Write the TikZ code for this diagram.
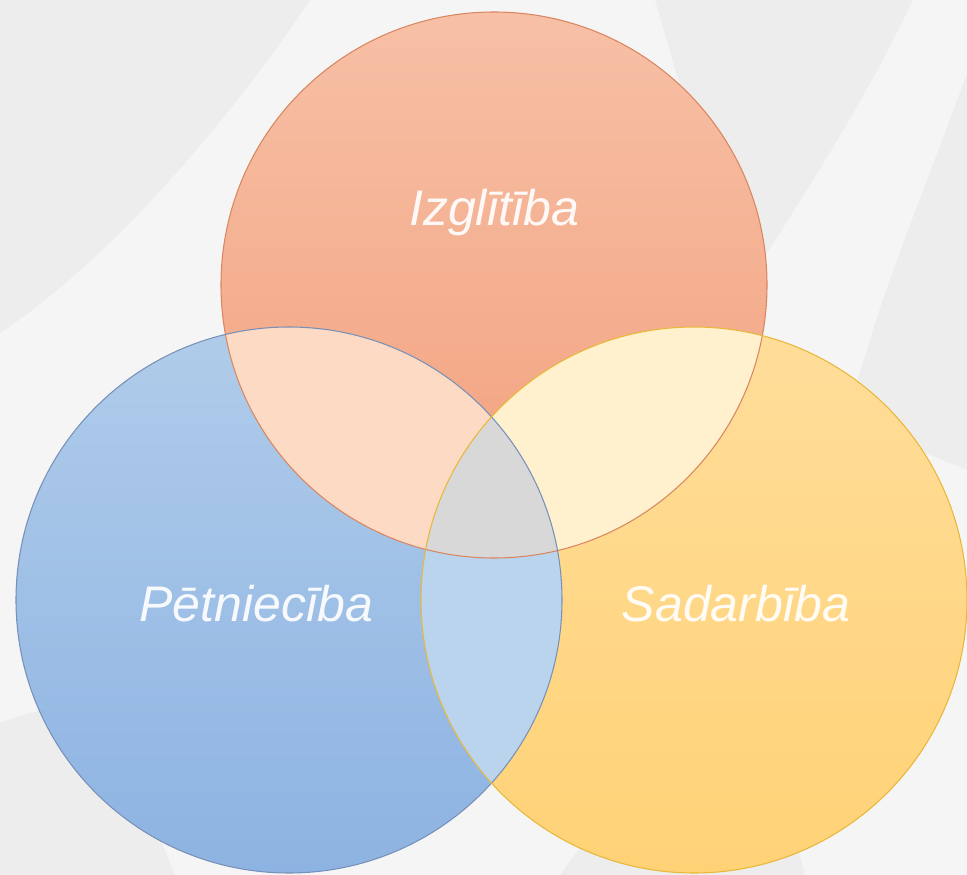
\documentclass[tikz,border=0pt]{standalone}
\usepackage{fontspec}
\setmainfont{Liberation Sans}
\definecolor{bgdark}{HTML}{EDEDED}
\definecolor{bglight}{HTML}{F5F5F5}
\definecolor{orTop}{HTML}{F7C0A6}
\definecolor{orBot}{HTML}{F2A07C}
\definecolor{blTop}{HTML}{B0CCEA}
\definecolor{blBot}{HTML}{8DB3E2}
\definecolor{yeTop}{HTML}{FFDD9A}
\definecolor{yeBot}{HTML}{FFD276}
\definecolor{orBl}{HTML}{FDDAC4}
\definecolor{orYe}{HTML}{FFF1CD}
\definecolor{blYe}{HTML}{BAD4ED}
\definecolor{allThree}{HTML}{D8D8D8}
\definecolor{orLine}{HTML}{D98660}
\definecolor{blLine}{HTML}{7890B8}
\definecolor{yeLine}{HTML}{E8B83A}
\tikzset{
  bgswoosh/.style={fill=bgdark, draw=none},
  ringline/.style={line width=0.6pt},
  vennlabel/.style={text=white, text opacity=0.92, font=\fontsize{28.5}{33}\selectfont\itshape, inner sep=0pt}
}
\begin{document}
\begin{tikzpicture}[x=0.02cm, y=-0.02cm]
\useasboundingbox (0,0) rectangle (967,875);
\clip (0,0) rectangle (967,875);
% background
\fill[bglight] (0,0) rectangle (967,875);
\fill[bgswoosh] (0,0) -- (310,0) .. controls (230,120) and (110,260) .. (0,333) -- cycle;
\fill[bgswoosh] (655,0) -- (913,0) .. controls (870,90) and (820,170) .. (767,253) -- (740,300) -- (690,120) -- cycle;
\fill[bgswoosh] (967,73) .. controls (940,150) and (890,270) .. (867,350) -- (845,420) -- (967,470) -- cycle;
\fill[bgswoosh] (0,723) .. controls (20,715) and (40,710) .. (60,706) -- (120,740) -- (175,875) -- (0,875) -- cycle;
\fill[bgswoosh] (560,875) -- (600,820) -- (790,820) -- (805,875) -- cycle;
% circle centres
\coordinate (T) at (494,285);
\coordinate (L) at (289,600);
\coordinate (R) at (694,600);
% circles
\shade[top color=orTop, bottom color=orBot] (T) circle (273);
\shade[top color=blTop, bottom color=blBot] (L) circle (273);
\shade[top color=yeTop, bottom color=yeBot] (R) circle (273);
% pairwise intersections
\begin{scope}
  \clip (T) circle (273);
  \fill[orBl] (L) circle (273);
  \fill[orYe] (R) circle (273);
\end{scope}
\begin{scope}
  \clip (L) circle (273);
  \fill[blYe] (R) circle (273);
  \clip (R) circle (273);
  \fill[allThree] (T) circle (273);
\end{scope}
% outlines
\draw[ringline, draw=orLine] (T) circle (273);
\draw[ringline, draw=blLine] (L) circle (273);
\draw[ringline, draw=yeLine] (R) circle (273);
% labels
\node[vennlabel] (izg) at (494,213) {Izglītība};
\node[vennlabel] (pet) at (256,604) {Pētniecība};
\node[vennlabel] (sad) at (736,604) {Sadarbība};
\end{tikzpicture}
\end{document}
